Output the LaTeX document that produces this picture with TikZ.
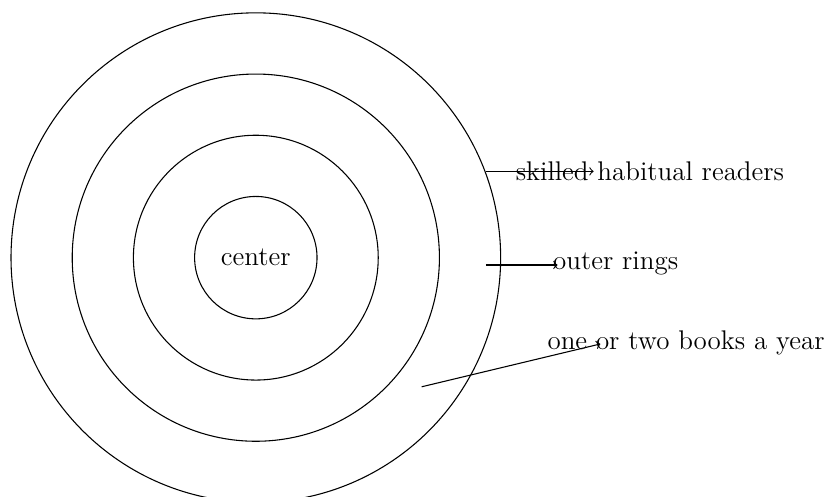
\documentclass[tikz,border=0pt]{standalone}
\usepackage{tikz}
\usetikzlibrary{calc}

\begin{document}
\begin{tikzpicture}[line width=0.5pt,label text/.style={font=\fontsize{12.55}{15}\selectfont}]

% Frame
\useasboundingbox (-4.18,-3.91) rectangle (9.30,4.21);

% Rings
\foreach \r in {1,2,3,4}
{
\draw (0,0) circle (\r);
}
\node[label text] (center) at (0,0){center};

% Arrow starts and ends
\coordinate (s1) at (3.76,1.41);
\coordinate (e1) at (5.52,1.41);
\coordinate (s2) at (3.76,-0.12);
\coordinate (e2) at (4.93,-0.12);
\coordinate (s3) at (2.71,-2.11);
\coordinate (e3) at (5.63,-1.41);

% Labels
\node[label text] (skilled) at (6.44,1.41){skilled habitual readers};
\node[label text] (outer) at (5.88,-0.09){outer rings};
\node[label text] (books) at (7.03,-1.40){one or two books a year};

% Arrows
\draw[->] (s1)--(e1);
\draw[->] (s2)--(e2);
\draw[->] (s3)--(e3);

\end{tikzpicture}
\end{document}
